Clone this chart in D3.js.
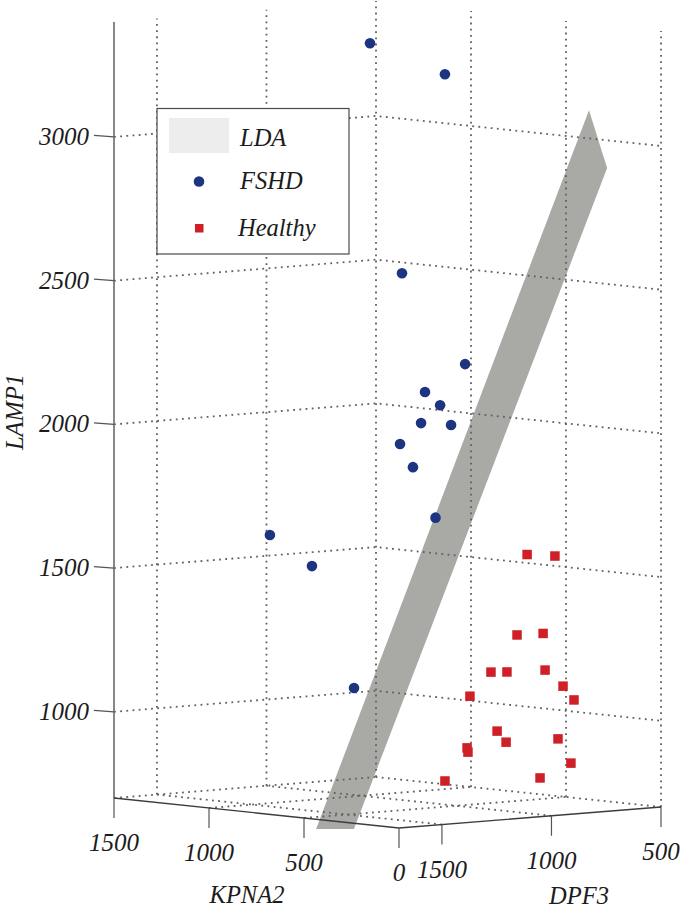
<!DOCTYPE html>
<html>
<head>
<meta charset="utf-8">
<script src="https://cdnjs.cloudflare.com/ajax/libs/d3/7.8.5/d3.min.js"></script>
<style>
html,body{margin:0;padding:0;background:#fff;}
svg{display:block;}
text{font-family:"Liberation Serif",serif;font-style:italic;fill:#1c1c1c;}
</style>
</head>
<body>
<svg id="chart" width="686" height="912"></svg>
<script>
// Data (gene expression values)
const fshdKPNA2 = [1000,1000,1000,1000,1000,1000,1000,1000,1000,1000,1000,1000,1000,1000];
const fshdDPF3  = [961,619,815,527,710,641,728,591,824,765,662,1418,1226,1034];
const fshdLAMP1 = [3316,3187,2507,2173,2087,2037,1980,1965,1913,1829,1647,1633,1513,1077];

const healthyKPNA2 = [300,300,300,300,300,300,300,300,300,300,300,300,300,300,300,300,300,300];
const healthyDPF3  = [851,724,897,778,1016,943,769,687,637,1112,988,947,710,1125,1121,651,1226,792];
const healthyLAMP1 = [1579,1566,1302,1300,1180,1176,1172,1111,1060,1102,973,932,929,923,908,841,814,798];

const ldaKPNA2 = [600,500,0,100];
const ldaDPF3  = [1554,1468,746,742];
const ldaLAMP1 = [646,648,2938,3132];

const kpnaTicks = [1500,1000,500,0];
const dpfTicks  = [1500,1000,500];
const lampTicks = [3000,2500,2000,1500,1000];
const kpnaExtent = [0,1500];
const dpfExtent  = [1696,500];
const lampExtent = [700,3400];
const legendLabels = ["LDA","FSHD","Healthy"];

// Oblique projection built from linear scales
const kX = d3.scaleLinear().domain(kpnaExtent).range([0,-285]);
const kY = d3.scaleLinear().domain(kpnaExtent).range([0,-30]);
const dX = d3.scaleLinear().domain(dpfExtent).range([399,661]);
const dY = d3.scaleLinear().domain(dpfExtent).range([828,807]);
const zY = d3.scaleLinear().domain(lampExtent).range([0,-776]);
const px = (k,d)=>kX(k)+dX(d);
const py = (k,d,z)=>kY(k)+dY(d)+zY(z);
const P = (k,d,z)=>[px(k,d),py(k,d,z)];

const svg = d3.select("#chart");
const line = d3.line();
const kMax=kpnaExtent[1], kMin=kpnaExtent[0], dFront=dpfExtent[0], dBack=dpfExtent[1], zMin=lampExtent[0], zMax=lampExtent[1];

// LDA plane
svg.append("path")
  .attr("d", line(ldaKPNA2.map((k,i)=>P(k,ldaDPF3[i],ldaLAMP1[i])))+"Z")
  .attr("fill","#a9aaa6");

// Dotted grid
const grid = svg.append("g").attr("fill","none").attr("stroke","#5f5f5f")
  .attr("stroke-width",1.8).attr("stroke-dasharray","1.8 4.4");
const gridLine = pts => grid.append("path").attr("d",line(pts));
// walls: level lines
lampTicks.forEach(z=>gridLine([P(kMax,dFront,z),P(kMax,dBack,z),P(kMin,dBack,z)]));
// walls: verticals
dpfTicks.forEach(d=>gridLine([P(kMax,d,zMin),P(kMax,d,zMax)]));
kpnaTicks.filter(k=>k<kMax).forEach(k=>gridLine([P(k,dBack,zMin),P(k,dBack,zMax)]));
// floor
dpfTicks.forEach(d=>gridLine([P(kMin,d,zMin),P(kMax,d,zMin)]));
kpnaTicks.filter(k=>k>kMin).forEach(k=>gridLine([P(k,dFront,zMin),P(k,dBack,zMin)]));

// Axes
const axes = svg.append("g").attr("fill","none");
axes.append("path").attr("d",line([P(kMax,dFront,zMin),P(kMax,dFront,zMax)]))
  .attr("stroke","#6a6a6a").attr("stroke-width",1.6);
axes.append("path").attr("d",line([P(kMax,dFront,zMin),P(kMin,dFront,zMin),P(kMin,dBack,zMin)]))
  .attr("stroke","#3c3c3c").attr("stroke-width",1.3);

const tickLen = 20;
kpnaTicks.forEach(k=>{
  const [x,y]=P(k,dFront,zMin);
  axes.append("line").attr("x1",x).attr("y1",y).attr("x2",x).attr("y2",y+tickLen)
    .attr("stroke","#555").attr("stroke-width",1.2);
  svg.append("text").attr("x",x).attr("y",y+53).attr("text-anchor","middle")
    .attr("font-size",25).text(k);
});
dpfTicks.forEach(d=>{
  const [x,y]=P(kMin,d,zMin);
  axes.append("line").attr("x1",x).attr("y1",y).attr("x2",x).attr("y2",y+tickLen)
    .attr("stroke","#555").attr("stroke-width",1.2);
  svg.append("text").attr("x",x).attr("y",y+53).attr("text-anchor","middle")
    .attr("font-size",25).text(d);
});
lampTicks.forEach(z=>{
  const [x,y]=P(kMax,dFront,z);
  axes.append("line").attr("x1",x).attr("y1",y).attr("x2",x-20).attr("y2",y-1.5)
    .attr("stroke","#555").attr("stroke-width",1.2);
  svg.append("text").attr("x",x-25).attr("y",y+8).attr("text-anchor","end")
    .attr("font-size",25).text(z);
});

// Axis titles
svg.append("text").attr("x",247).attr("y",903).attr("text-anchor","middle").attr("font-size",24.5).text("KPNA2");
svg.append("text").attr("x",579).attr("y",904).attr("text-anchor","middle").attr("font-size",24.5).text("DPF3");
svg.append("text").attr("transform","translate(23,412) rotate(-90)").attr("text-anchor","middle").attr("font-size",24.5).text("LAMP1");

// Points
svg.append("g").selectAll("circle").data(fshdLAMP1).join("circle")
  .attr("cx",(z,i)=>px(fshdKPNA2[i],fshdDPF3[i]))
  .attr("cy",(z,i)=>py(fshdKPNA2[i],fshdDPF3[i],z))
  .attr("r",5.3).attr("fill","#1d3580");
const sq=9.5;
svg.append("g").selectAll("rect").data(healthyLAMP1).join("rect")
  .attr("x",(z,i)=>px(healthyKPNA2[i],healthyDPF3[i])-sq/2)
  .attr("y",(z,i)=>py(healthyKPNA2[i],healthyDPF3[i],z)-sq/2)
  .attr("width",sq).attr("height",sq).attr("fill","#cf2027");

// Legend
const lg = svg.append("g");
lg.append("rect").attr("x",157).attr("y",108.5).attr("width",192).attr("height",145.5)
  .attr("fill","#fff").attr("stroke","#4a4a4a").attr("stroke-width",1.2);
lg.append("rect").attr("x",169).attr("y",118).attr("width",60).attr("height",35).attr("fill","#ededed");
lg.append("circle").attr("cx",199).attr("cy",181.5).attr("r",5.3).attr("fill","#1d3580");
lg.append("rect").attr("x",195).attr("y",224).attr("width",8.5).attr("height",8.5).attr("fill","#cf2027");
const lgX=[240,240,238], lgY=[146,189,236];
legendLabels.forEach((t,i)=>lg.append("text").attr("x",lgX[i]).attr("y",lgY[i]).attr("font-size",24.5).text(t));
</script>
</body>
</html>
